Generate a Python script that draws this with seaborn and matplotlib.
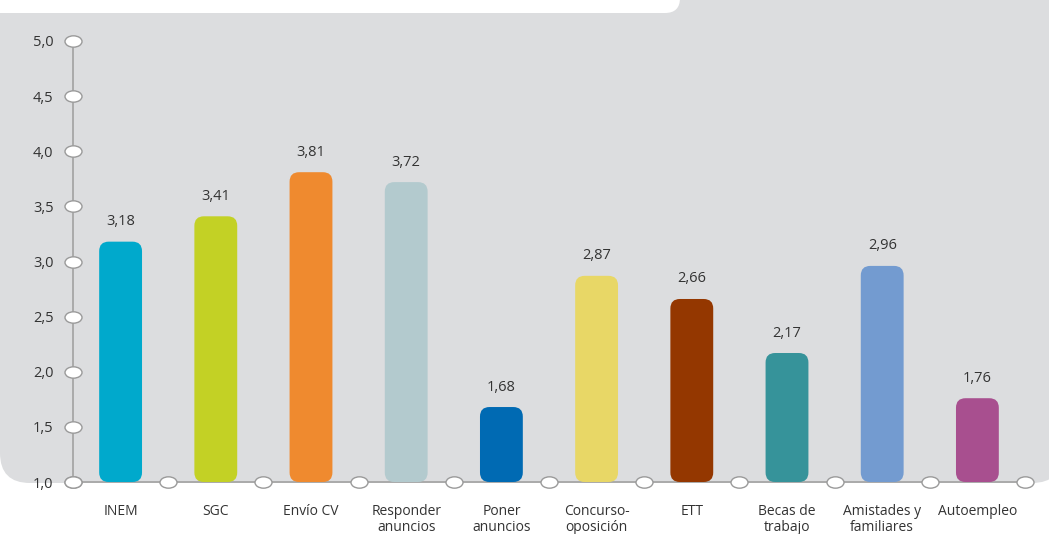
import numpy as np
import pandas as pd
import seaborn as sns
import matplotlib.pyplot as plt
from matplotlib.patches import FancyBboxPatch
from matplotlib.path import Path
from matplotlib.markers import MarkerStyle
from matplotlib.transforms import Affine2D

# Data
categories = ['INEM', 'SGC', 'Envío CV', 'Responder\nanuncios', 'Poner\nanuncios',
              'Concurso-\noposición', 'ETT', 'Becas de\ntrabajo', 'Amistades y\nfamiliares',
              'Autoempleo']
values = [3.18, 3.41, 3.81, 3.72, 1.68, 2.87, 2.66, 2.17, 2.96, 1.76]
colors = ['#00A9CC', '#C3D125', '#EF8A2F', '#B3CACE', '#006AB3',
          '#E8D766', '#943700', '#36939A', '#739BD0', '#A84F8F']
yticks = [1.0, 1.5, 2.0, 2.5, 3.0, 3.5, 4.0, 4.5, 5.0]

df = pd.DataFrame({'cat': categories, 'val': values})

sns.set_style('white')
plt.rcParams['font.family'] = ['Open Sans', 'DejaVu Sans']

fig = plt.figure(figsize=(10.49, 5.34), dpi=100)
fig.patch.set_facecolor('white')

# gray panel with rounded corners + white header box
W, H = 1049, 534
def px_box(x0, y0, x1, y1, r, color, z):
    p = FancyBboxPatch((x0 / W, 1 - y1 / H), (x1 - x0) / W, (y1 - y0) / H,
                       boxstyle=f"round,pad=0,rounding_size={r / W}",
                       mutation_aspect=W / H, transform=fig.transFigure,
                       facecolor=color, edgecolor='none', zorder=z)
    fig.patches.append(p)

px_box(0, -60, 1062, 483, 30, '#DCDDDF', -3)
px_box(-40, -40, 680, 13, 15, 'white', -2)

ax = fig.add_axes([73 / W, 1 - 482 / H, 952 / W, 441 / H])
ax.set_facecolor('none')

sns.barplot(data=df, x='cat', y='val', hue='cat', palette=colors, legend=False,
            width=0.45, ax=ax)

ax.set_xlim(-0.5, 9.5)
ax.set_ylim(1.0, 5.0)

# replace bars with rounded ones
asp = 95 / 110.25
for bar, c, v in zip(list(ax.patches), colors, values):
    x, w = bar.get_x(), bar.get_width()
    bar.remove()
    rb = FancyBboxPatch((x, 1.0), w, v - 1.0,
                        boxstyle="round,pad=0,rounding_size=0.1",
                        mutation_aspect=asp, facecolor=c, edgecolor='none',
                        zorder=2, clip_on=False)
    ax.add_patch(rb)
    ax.annotate(f"{v:.2f}".replace('.', ','), (x + w / 2, v), xytext=(0, 9),
                textcoords='offset points', ha='center', va='bottom',
                fontsize=10.5, color='#333333')

for s in ax.spines.values():
    s.set_visible(False)

# axis lines
ax.plot([-0.5, -0.5], [1.0, 5.0], color='#A6A6A6', lw=1.3, zorder=1, clip_on=False)
ax.plot([-0.5, 9.5], [1.0, 1.0], color='#A6A6A6', lw=1.3, zorder=1, clip_on=False)

# pill-shaped tick markers
pill = MarkerStyle(Path.unit_circle().transformed(Affine2D().scale(1.5, 1.0)))
ax.scatter([-0.5] * len(yticks), yticks, marker=pill, s=150, facecolor='white',
           edgecolor='#9A9A9A', linewidth=1, zorder=4, clip_on=False)
ax.scatter(np.arange(-0.5, 10, 1.0), [1.0] * 11, marker=pill, s=150, facecolor='white',
           edgecolor='#9A9A9A', linewidth=1, zorder=4, clip_on=False)

ax.set_yticks(yticks)
ax.set_yticklabels([f"{t:.1f}".replace('.', ',') for t in yticks], fontsize=10.5,
                   color='#333333')
ax.set_xticks(range(len(categories)))
ax.set_xticklabels(categories, fontsize=10, color='#333333', linespacing=1.05,
                   va='top')
ax.tick_params(axis='y', length=0, pad=14)
ax.tick_params(axis='x', length=0, pad=16)
ax.set_xlabel('')
ax.set_ylabel('')

fig.savefig('out.png', dpi=100, facecolor='white')
